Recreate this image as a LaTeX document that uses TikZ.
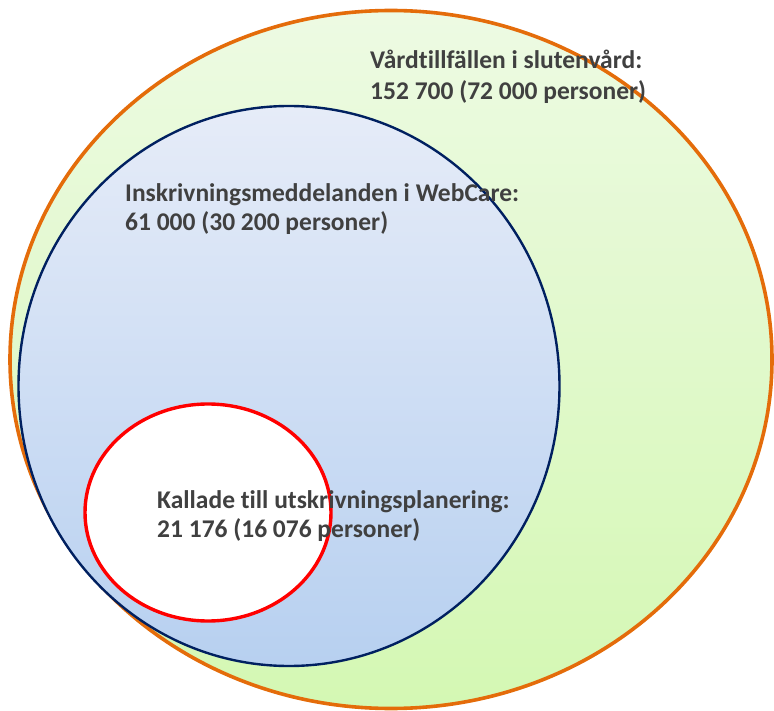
\documentclass[tikz,border=0pt]{standalone}
\usepackage{fontspec}
\setmainfont{Carlito}[Ligatures={NoCommon,NoContextual,NoRare},RawFeature={-liga;-clig;-calt;-dlig}]
\usetikzlibrary{shapes.geometric}
\definecolor{orangeline}{HTML}{E46C0A}
\definecolor{navyline}{HTML}{002060}
\definecolor{redline}{HTML}{FF0000}
\definecolor{greentop}{HTML}{EDFAE3}
\definecolor{greenbot}{HTML}{D4F8B3}
\definecolor{bluetop}{HTML}{E6ECF8}
\definecolor{bluebot}{HTML}{B7D0F0}
\definecolor{textgray}{HTML}{404040}
\tikzset{
  setshape/.style={ellipse, inner sep=0pt, outer sep=0pt},
  lbl/.style={anchor=base west, inner sep=0pt, text=textgray,
    font=\bfseries\fontsize{25.5}{29.5}\selectfont}
}
\begin{document}
\begin{tikzpicture}[x=1pt,y=-1pt]
\useasboundingbox (0,0) rectangle (774,711);
\node[setshape, draw=orangeline, line width=3.6pt, top color=greentop, bottom color=greenbot,
  minimum width=762pt, minimum height=698pt] (outer) at (391,359.5) {};
\node[setshape, draw=navyline, line width=2.4pt, top color=bluetop, bottom color=bluebot,
  minimum width=541pt, minimum height=560pt] (webcare) at (289,386) {};
\node[setshape, draw=redline, line width=3.4pt, fill=white,
  minimum width=246pt, minimum height=217pt] (kallade) at (208,512.5) {};
\node[lbl] (t1a) at (370,69) {Vårdtillfällen i slutenvård:};
\node[lbl] (t1b) at (370,99.5) {152 700 (72 000 personer)};
\node[lbl] (t2a) at (125,201.5) {Inskrivningsmeddelanden i WebCare:};
\node[lbl] (t2b) at (125,231) {61 000 (30 200 personer)};
\node[lbl] (t3a) at (157,508.3) {Kallade till utskrivningsplanering:};
\node[lbl] (t3b) at (157,537) {21 176 (16 076 personer)};
\end{tikzpicture}
\end{document}
